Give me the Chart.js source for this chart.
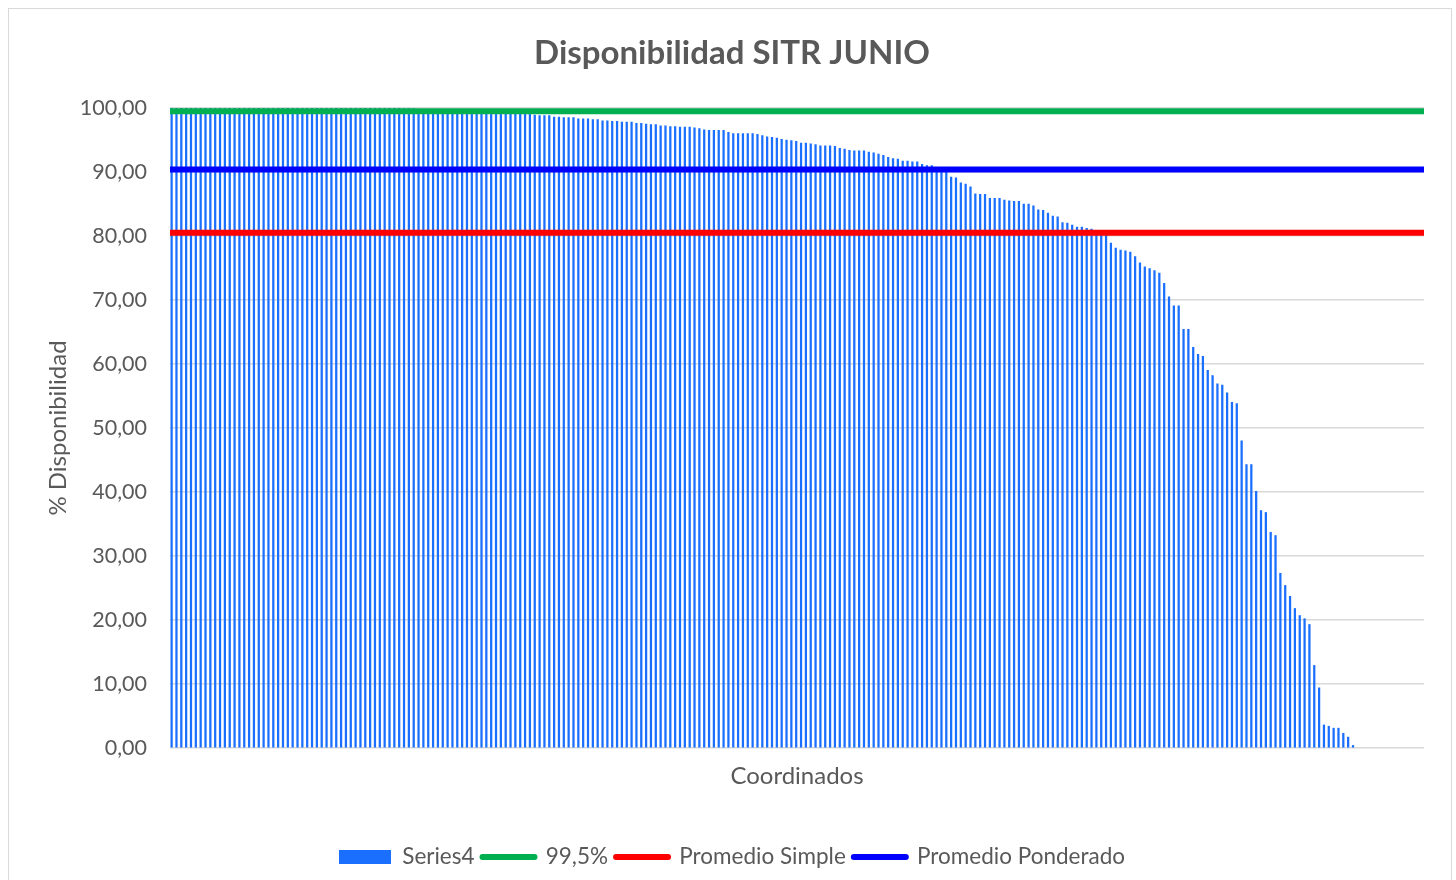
<!DOCTYPE html>
<html>
<head>
<meta charset="utf-8">
<script src="https://cdn.jsdelivr.net/npm/chart.js"></script>
<style>
  body { margin: 0; background: #fff; }
  #wrap { position: relative; width: 1456px; height: 880px; overflow: hidden; }
  #frame { position: absolute; left: 8px; top: 8px; width: 1442px; height: 900px; border: 1.5px solid #d9d9d9; }
  canvas { position: absolute; left: 0; top: 0; }
</style>
</head>
<body>
<div id="wrap">
  <div id="frame"></div>
  <canvas id="grafico" width="1456" height="880"></canvas>
</div>
<script>
// disponibilidad por coordinado (%), ordenada de mayor a menor; null = sin barra
const disponibilidad = [
  100, 100, 100, 100, 100, 100, 100, 100, 100, 100,
  100, 100, 100, 100, 100, 100, 100, 100, 100, 100,
  100, 100, 100, 100, 100, 100, 100, 100, 100, 100,
  100, 100, 100, 100, 100, 100, 100, 100, 100, 100,
  100, 100, 100, 100, 100, 100, 100, 100, 99.9, 99.9,
  99.9, 99.8, 99.8, 99.8, 99.7, 99.7, 99.7, 99.6, 99.6, 99.6,
  99.5, 99.5, 99.5, 99.4, 99.4, 99.3, 99.3, 99.3, 99.2, 99.2,
  99.1, 99.1, 99.1, 99.0, 99.0, 98.9, 98.8, 98.8, 98.8, 98.6,
  98.6, 98.5, 98.5, 98.5, 98.3, 98.3, 98.3, 98.2, 98.2, 98.0,
  98.0, 97.9, 97.9, 97.8, 97.8, 97.8, 97.6, 97.6, 97.5, 97.4,
  97.4, 97.2, 97.2, 97.1, 97.1, 97.0, 97.0, 97.0, 96.9, 96.8,
  96.6, 96.5, 96.5, 96.5, 96.5, 96.2, 96.0, 96.0, 96.0, 96.0,
  96.0, 95.9, 95.7, 95.5, 95.4, 95.3, 95.1, 95.0, 94.9, 94.8,
  94.5, 94.5, 94.4, 94.3, 94.1, 94.1, 94.1, 94.0, 93.7, 93.6,
  93.4, 93.3, 93.3, 93.3, 93.1, 93.0, 92.8, 92.6, 92.3, 92.1,
  92.0, 91.7, 91.7, 91.6, 91.6, 91.2, 91.0, 91.0, 90.6, 90.5,
  90.4, 89.2, 89.1, 88.3, 88.1, 87.7, 86.6, 86.5, 86.5, 85.9,
  85.9, 85.9, 85.6, 85.5, 85.4, 85.4, 85.0, 85.0, 84.7, 84.1,
  84.0, 83.6, 83.1, 83.0, 82.1, 82.0, 81.7, 81.4, 81.4, 81.2,
  81.1, 80.8, 80.6, 80.4, 78.9, 78.1, 77.8, 77.7, 77.5, 76.8,
  75.8, 75.2, 74.9, 74.6, 74.2, 72.6, 70.5, 69.1, 69.1, 65.4,
  65.4, 62.6, 61.5, 61.2, 59.0, 58.2, 56.9, 56.7, 55.5, 54.0,
  53.8, 48.0, 44.3, 44.3, 40.1, 37.1, 36.8, 33.7, 33.2, 27.3,
  25.4, 23.7, 21.8, 20.7, 20.2, 19.3, 12.9, 9.4, 3.6, 3.4,
  3.1, 3.1, 2.3, 1.7, 0.4, null, null, null, null, null,
  null, null, null, null, null, null, null, null, null
];
const coordinados = disponibilidad.map((v, i) => String(i + 1));

const meta995 = 99.5;
const promedioSimple = 80.5;
const promedioPonderado = 90.4;

const yTicks = [0, 10, 20, 30, 40, 50, 60, 70, 80, 90, 100];

Chart.defaults.font.family = 'Lato, "Open Sans", sans-serif';
Chart.defaults.color = '#595959';

function lineaHorizontal(v) {
  return [{ x: 0, y: v }, { x: 1, y: v }];
}

const ctx = document.getElementById('grafico').getContext('2d');
new Chart(ctx, {
  data: {
    labels: coordinados,
    datasets: [
      {
        type: 'bar',
        label: 'Series4',
        data: disponibilidad,
        backgroundColor: '#1a6fff',
        barThickness: 1.6,
        order: 1
      },
      {
        type: 'line',
        label: '99,5%',
        data: lineaHorizontal(meta995),
        xAxisID: 'x2',
        borderColor: '#00b050',
        borderWidth: 6,
        pointRadius: 0,
        order: 0
      },
      {
        type: 'line',
        label: 'Promedio Simple',
        data: lineaHorizontal(promedioSimple),
        xAxisID: 'x2',
        borderColor: '#ff0000',
        borderWidth: 6,
        pointRadius: 0,
        order: 0
      },
      {
        type: 'line',
        label: 'Promedio Ponderado',
        data: lineaHorizontal(promedioPonderado),
        xAxisID: 'x2',
        borderColor: '#0000ff',
        borderWidth: 6,
        pointRadius: 0,
        order: 0
      }
    ]
  },
  options: {
    responsive: false,
    animation: false,
    layout: { padding: { top: 0, left: 40, right: 32, bottom: 1.75 } },
    scales: {
      x: {
        type: 'category',
        grid: { display: false, drawTicks: false },
        border: { display: false },
        ticks: { display: false },
        title: {
          display: true,
          text: 'Coordinados',
          font: { size: 24 },
          padding: { top: 0, bottom: 47.3 }
        },
        afterFit: (axis) => { axis.height = 89.75; }
      },
      x2: {
        type: 'linear',
        display: false,
        min: 0,
        max: 1
      },
      y: {
        min: 0,
        max: 100,
        afterBuildTicks: (axis) => { axis.ticks = yTicks.map(v => ({ value: v })); },
        ticks: {
          padding: 23,
          font: { size: 21.5 },
          callback: (v) => Number(v).toFixed(2).replace('.', ',')
        },
        grid: { color: '#d9d9d9', lineWidth: 1.5, drawTicks: false },
        border: { display: false },
        title: {
          display: true,
          text: '% Disponibilidad',
          font: { size: 24 },
          padding: { top: 3.6, bottom: 0 }
        },
        afterFit: (axis) => { axis.width = 130; }
      }
    },
    plugins: {
      title: {
        display: true,
        text: 'Disponibilidad SITR JUNIO',
        font: { size: 33, weight: 'bold' },
        color: '#595959',
        padding: { top: 33.2, bottom: 35.2 }
      },
      legend: {
        position: 'bottom',
        labels: {
          font: { size: 22.5 },
          color: '#595959',
          usePointStyle: true,
          pointStyleWidth: 52,
          boxHeight: 14,
          padding: 8,
          generateLabels: (chart) => chart.data.datasets.map((ds, i) => ({
            text: ds.label,
            datasetIndex: i,
            pointStyle: ds.type === 'bar' ? 'rect' : 'line',
            fillStyle: ds.type === 'bar' ? ds.backgroundColor : ds.borderColor,
            strokeStyle: ds.type === 'bar' ? ds.backgroundColor : ds.borderColor,
            lineWidth: ds.type === 'bar' ? 0 : 6,
            lineCap: 'round',
            fontColor: '#595959',
            hidden: false
          }))
        }
      },
      tooltip: { enabled: false }
    }
  }
});
</script>
</body>
</html>
